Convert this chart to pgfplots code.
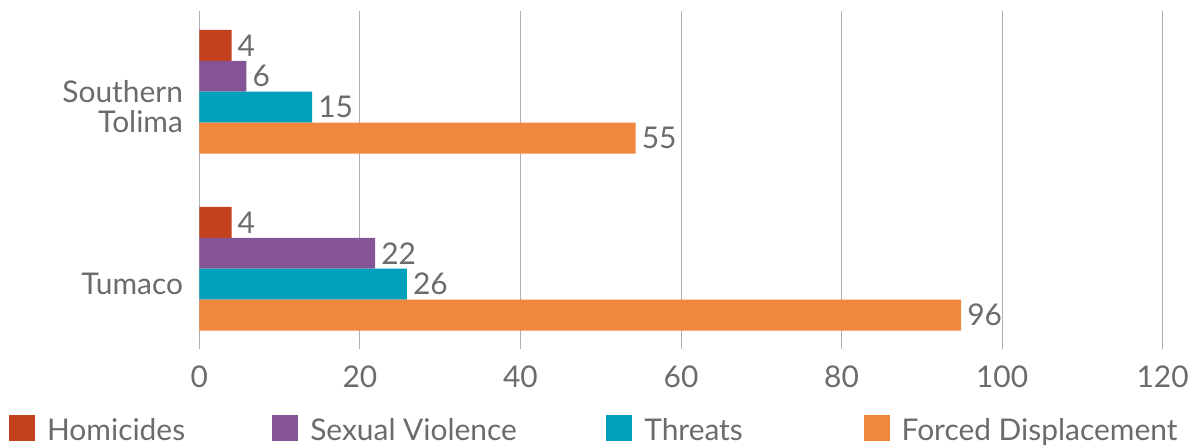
\documentclass[border=0pt]{standalone}
\usepackage{fontspec}
\setmainfont{Lato}
\usepackage{pgfplots}
\pgfplotsset{compat=1.18}
\definecolor{hom}{HTML}{C4411E}
\definecolor{sv}{HTML}{855497}
\definecolor{thr}{HTML}{00A0BC}
\definecolor{fd}{HTML}{F0873F}
\definecolor{txt}{HTML}{6B6B6B}
\definecolor{grd}{HTML}{B0B0B0}
\begin{document}
\begin{tikzpicture}
\begin{axis}[
  scale only axis, width=966pt, height=339pt,
  xbar, bar width=0.1747,
  xmin=0, xmax=120, xtick={0,20,...,120},
  ymin=-0.4535, ymax=1.456,
  ytick={0,1}, yticklabels={Tumaco,{Southern\\Tolima}},
  axis line style={draw=none},
  major tick length=0pt,
  xmajorgrids, grid style={grd, line width=1pt},
  /pgf/number format/assume math mode=true,
  every tick label/.append style={font=\fontsize{30}{31}\selectfont, text=txt},
  yticklabel style={align=right, xshift=-13pt, yshift=-15pt},
  xticklabel style={yshift=-13pt},
  point meta=explicit symbolic,
  nodes near coords,
  nodes near coords style={font=\fontsize{30}{31}\selectfont, text=txt, anchor=west, inner xsep=6pt},
  legend columns=4,
  legend image code/.code={\fill[#1] (0pt,-11pt) rectangle (26pt,15pt); \path (38pt,0pt);},
  legend style={at={(-0.1977,-0.2360)}, anchor=west, draw=none, fill=none,
    inner sep=0pt, font=\fontsize{30}{31}\selectfont, text=txt,
    nodes={inner sep=0pt}, column sep=0pt},
  legend cell align=left,
]
\addplot[fill=hom, draw=none, bar shift=0.262] coordinates {(4,0) [4] (4,1) [4]};
\addlegendentry{\makebox[226pt][l]{Homicides}}
\addplot[fill=sv, draw=none, bar shift=0.0873] coordinates {(21.9,0) [22] (5.85,1) [6]};
\addlegendentry{\makebox[297pt][l]{Sexual Violence}}
\addplot[fill=thr, draw=none, bar shift=-0.0873] coordinates {(25.85,0) [26] (14.05,1) [15]};
\addlegendentry{\makebox[220pt][l]{Threats}}
\addplot[fill=fd, draw=none, bar shift=-0.262] coordinates {(94.9,0) [96] (54.35,1) [55]};
\addlegendentry{Forced Displacement}
\end{axis}
\path (current axis.south west) ++(-200pt,-97pt) rectangle ++(1192pt,447pt);
\end{tikzpicture}
\end{document}
